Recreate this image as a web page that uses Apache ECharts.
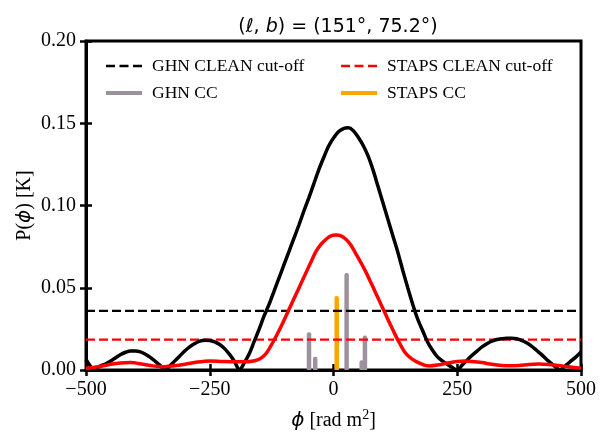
<!DOCTYPE html>
<html>
<head>
<meta charset="utf-8">
<script src="https://cdn.jsdelivr.net/npm/echarts@6/dist/echarts.min.js"></script>
<style>
  html, body { margin: 0; padding: 0; background: #fff; }
  #chart { width: 606px; height: 432px; }
</style>
</head>
<body>
<div id="chart"></div>
<script>
// GHN RMSF amplitude, [phi, P]
const ghnCurve = [
  [-500, 0.0065], [-490, 0.0018], [-485, 0.0], [-480, 0.001], [-470, 0.0025], [-460, 0.0038],
  [-450, 0.0055], [-440, 0.0075], [-430, 0.0094], [-420, 0.0108], [-410, 0.0116], [-400, 0.0116],
  [-390, 0.011], [-380, 0.0096], [-370, 0.0077], [-360, 0.0053], [-350, 0.0027], [-340, 0.0],
  [-330, 0.0027], [-320, 0.0057], [-310, 0.0087], [-300, 0.0117], [-290, 0.0142], [-280, 0.0161],
  [-270, 0.0175], [-260, 0.0181], [-250, 0.018], [-240, 0.0171], [-230, 0.0155], [-220, 0.013],
  [-210, 0.0095], [-200, 0.0052], [-190, 0.0], [-180, 0.0045], [-170, 0.01], [-160, 0.0175],
  [-150, 0.025], [-140, 0.033], [-130, 0.04], [-120, 0.048], [-110, 0.056], [-100, 0.064],
  [-90, 0.072], [-80, 0.08], [-70, 0.088], [-60, 0.0965], [-50, 0.1045], [-40, 0.113],
  [-30, 0.1215], [-20, 0.129], [-10, 0.136], [0, 0.141], [10, 0.1448], [20, 0.1468],
  [30, 0.1472], [40, 0.1455], [50, 0.1415], [60, 0.1365], [70, 0.13], [80, 0.1215],
  [90, 0.1115], [100, 0.1015], [110, 0.0915], [120, 0.0815], [130, 0.0715], [140, 0.0605],
  [150, 0.05], [160, 0.04], [170, 0.031], [180, 0.024], [190, 0.017], [200, 0.012],
  [210, 0.008], [220, 0.0055], [230, 0.0035], [240, 0.0015], [250, 0.0], [260, 0.003],
  [270, 0.006], [280, 0.009], [290, 0.0115], [300, 0.014], [310, 0.016], [320, 0.0175],
  [330, 0.0185], [340, 0.019], [350, 0.0193], [360, 0.0193], [370, 0.019], [380, 0.018],
  [390, 0.0165], [400, 0.0145], [410, 0.012], [420, 0.0095], [430, 0.0065], [440, 0.004],
  [450, 0.0015], [457, 0.0], [470, 0.003], [480, 0.0055], [490, 0.008], [500, 0.011]
];

// STAPS RMSF amplitude, [phi, P]
const stapsCurve = [
  [-500, 0.001], [-475, 0.002], [-450, 0.0035], [-430, 0.0043], [-410, 0.0045], [-385, 0.0035],
  [-365, 0.0025], [-345, 0.002], [-325, 0.0025], [-300, 0.0035], [-275, 0.0048], [-250, 0.0055],
  [-225, 0.0052], [-200, 0.005], [-185, 0.005], [-175, 0.005], [-165, 0.0053], [-155, 0.006],
  [-145, 0.0075], [-135, 0.0105], [-125, 0.0155], [-115, 0.021], [-105, 0.027], [-95, 0.0335],
  [-85, 0.04], [-75, 0.0465], [-65, 0.053], [-55, 0.0595], [-45, 0.066], [-35, 0.0722],
  [-25, 0.0765], [-15, 0.0795], [-5, 0.0815], [5, 0.082], [15, 0.0815], [25, 0.0795],
  [35, 0.076], [45, 0.0708], [55, 0.0655], [65, 0.0598], [75, 0.0535], [85, 0.047],
  [95, 0.0405], [105, 0.034], [115, 0.0275], [125, 0.0212], [135, 0.0155], [145, 0.0105],
  [155, 0.0075], [165, 0.0055], [175, 0.004], [185, 0.0028], [195, 0.0025], [210, 0.003],
  [230, 0.0042], [250, 0.0052], [265, 0.0055], [280, 0.0052], [300, 0.0045], [320, 0.0035],
  [340, 0.0028], [355, 0.0026], [375, 0.0028], [395, 0.0034], [415, 0.0036], [435, 0.0033],
  [455, 0.0027], [475, 0.002], [500, 0.001]
];

const ghnCutoff = 0.036;
const stapsCutoff = 0.0185;

// clean components, [phi, P]
const ghnCC = [[-49.5, 0.023], [-37, 0.008], [26.5, 0.059], [57, 0.006], [63.5, 0.021]];
const stapsCC = [[6.5, 0.045]];

const xTicks = [-500, -250, 0, 250, 500];
const yTicks = [0, 0.05, 0.1, 0.15, 0.2];

const serif = "'Liberation Serif', 'Times New Roman', serif";
const sans = "'DejaVu Sans', sans-serif";

const chart = echarts.init(document.getElementById("chart"));

const tickLabel = { color: "#000", fontFamily: serif, fontSize: 20 };
const mathRich = {
  i: { fontFamily: sans, fontStyle: "italic", fontSize: 20, color: "#000" },
  s: { fontFamily: serif, fontSize: 14, color: "#000", padding: [0, 0, 12, 0] },
};

const dashIcon = "path://M0,0h9v2.4h-9z M13.5,0h9v2.4h-9z M27,0h9v2.4h-9z";

const cutLine = (name, value, color) => ({
  name,
  type: "line",
  data: [[xTicks[0], value], [xTicks[xTicks.length - 1], value]],
  showSymbol: false,
  symbol: "none",
  z: 4,
  lineStyle: { color, width: 2.2, type: [9, 4] },
  itemStyle: { color },
});

const legendAt = (name, left, top, icon, h) => ({
  data: [{ name, icon }],
  left,
  top,
  itemWidth: 36,
  itemHeight: h,
  textStyle: { fontFamily: serif, fontSize: 17.5, color: "#000", padding: [0, 0, 0, 5] },
});

chart.setOption({
  animation: false,
  backgroundColor: "#fff",
  title: {
    text: "({i|ℓ}, {i|b}) = (151°, 75.2°)",
    left: 333,
    textAlign: "center",
    top: 13,
    textStyle: {
      fontFamily: sans,
      fontSize: 19,
      fontWeight: "normal",
      color: "#000",
      rich: {
        i: { fontFamily: sans, fontStyle: "italic", fontSize: 19, color: "#000" },
      },
    },
  },
  legend: [
    legendAt("GHN CLEAN cut-off", 101, 52, dashIcon, 2.4),
    legendAt("STAPS CLEAN cut-off", 336, 52, dashIcon, 2.4),
    legendAt("GHN CC", 101, 79, "rect", 4),
    legendAt("STAPS CC", 336, 79, "rect", 4),
  ],
  grid: {
    left: 86,
    right: 25,
    top: 41,
    bottom: 62,
    outerBoundsMode: "none",
    show: true,
    borderColor: "#000",
    borderWidth: 3,
    backgroundColor: "transparent",
  },
  xAxis: [
    {
      type: "value",
      min: -500,
      max: 500,
      interval: 250,
      name: "{i|ϕ} [rad m{s|2}]",
      nameLocation: "middle",
      nameGap: 38,
      nameTextStyle: { fontFamily: serif, fontSize: 20, color: "#000", rich: mathRich },
      axisLine: { onZero: false, lineStyle: { color: "#000", width: 3 } },
      axisTick: { length: 6, lineStyle: { color: "#000", width: 2.5 } },
      axisLabel: {
        ...tickLabel,
        margin: 10,
        formatter: (v) => String(v).replace("-", "\u2212"),
      },
      splitLine: { show: false },
    },
    {
      type: "value",
      min: -500,
      max: 500,
      interval: 250,
      position: "bottom",
      axisLine: { show: false, onZero: false },
      axisTick: { inside: true, length: 6, lineStyle: { color: "#000", width: 2.5 } },
      axisLabel: { show: false },
      splitLine: { show: false },
    },
  ],
  yAxis: [
    {
      type: "value",
      min: 0,
      max: 0.2,
      interval: 0.05,
      name: "P({i|ϕ}) [K]",
      nameLocation: "middle",
      nameGap: 51,
      nameMoveOverlap: false,
      nameTextStyle: { fontFamily: serif, fontSize: 20, color: "#000", rich: mathRich },
      axisLine: { show: true, onZero: false, lineStyle: { color: "#000", width: 3 } },
      axisTick: { show: true, length: 6, lineStyle: { color: "#000", width: 2.5 } },
      axisLabel: { ...tickLabel, margin: 10, formatter: (v) => v.toFixed(2) },
      splitLine: { show: false },
    },
    {
      type: "value",
      min: 0,
      max: 0.2,
      interval: 0.05,
      position: "left",
      axisLine: { show: false, onZero: false },
      axisTick: { show: true, inside: true, length: 6, lineStyle: { color: "#000", width: 2.5 } },
      axisLabel: { show: false },
      splitLine: { show: false },
    },
  ],
  series: [
    cutLine("GHN CLEAN cut-off", ghnCutoff, "#000"),
    cutLine("STAPS CLEAN cut-off", stapsCutoff, "#ff0000"),
    {
      name: "GHN CC",
      type: "bar",
      data: ghnCC,
      barWidth: 4.5,
      barGap: "-100%",
      z: 3,
      itemStyle: { color: "#9c929e", borderRadius: [2, 2, 0, 0] },
    },
    {
      name: "STAPS CC",
      type: "bar",
      data: stapsCC,
      barWidth: 4.5,
      barGap: "-100%",
      z: 3,
      itemStyle: { color: "#ffa500", borderRadius: [2, 2, 0, 0] },
    },
    {
      name: "GHN RMSF",
      type: "line",
      data: ghnCurve,
      smooth: 0.3,
      showSymbol: false,
      symbol: "none",
      z: 5,
      lineStyle: { color: "#000", width: 3.5 },
    },
    {
      name: "STAPS RMSF",
      type: "line",
      data: stapsCurve,
      smooth: 0.3,
      showSymbol: false,
      symbol: "none",
      z: 6,
      lineStyle: { color: "#ff0000", width: 3.5 },
    },
  ],
});
</script>
</body>
</html>
